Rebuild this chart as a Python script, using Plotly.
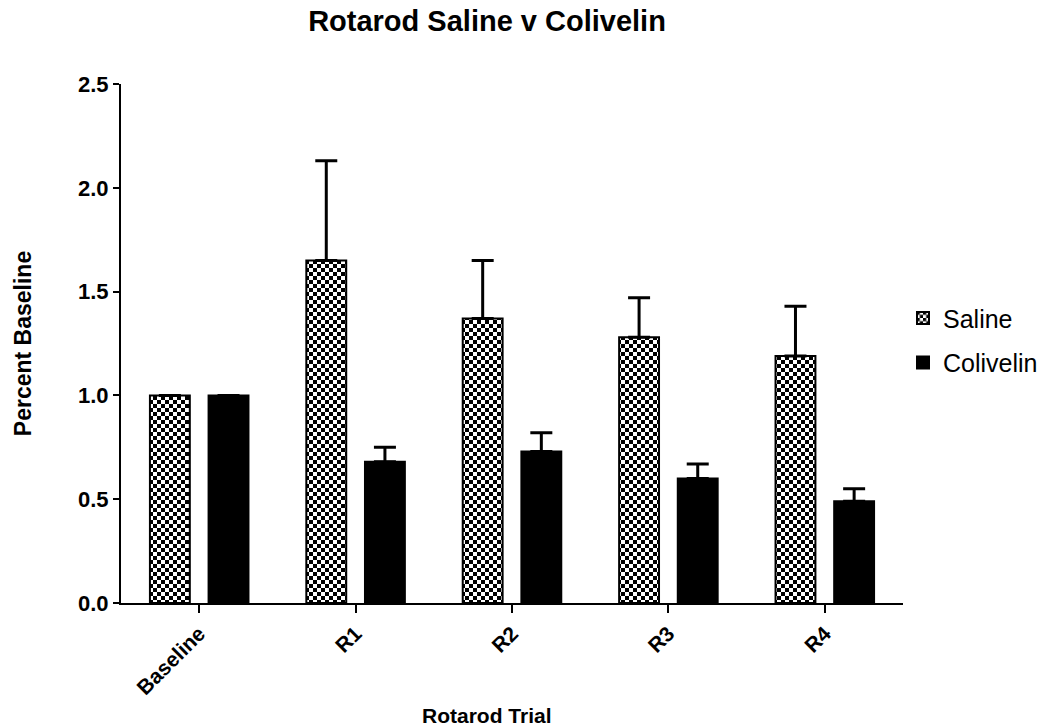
import plotly.graph_objects as go

categories = ["Baseline", "R1", "R2", "R3", "R4"]
saline_mean = [1.00, 1.65, 1.37, 1.28, 1.19]
saline_err = [None, 0.48, 0.28, 0.19, 0.24]
colivelin_mean = [1.00, 0.68, 0.73, 0.60, 0.49]
colivelin_err = [None, 0.07, 0.09, 0.07, 0.06]
y_ticks = [0.0, 0.5, 1.0, 1.5, 2.0, 2.5]

FONT = "Liberation Sans, Arial, sans-serif"

fig = go.Figure()
fig.add_trace(go.Bar(
    name="Saline", x=categories, y=saline_mean, legendgroup="s",
    marker=dict(color="white", line=dict(color="black", width=2),
                pattern=dict(shape="+", fgcolor="black", bgcolor="white", size=8, solidity=0.5)),
    error_y=dict(type="data", array=saline_err, arrayminus=[0] * 5, symmetric=False,
                 color="black", thickness=3, width=11),
))
fig.add_trace(go.Bar(
    name="Colivelin", x=categories, y=colivelin_mean, legendgroup="c",
    marker=dict(color="black", line=dict(color="black", width=2)),
    error_y=dict(type="data", array=colivelin_err, arrayminus=[0] * 5, symmetric=False,
                 color="black", thickness=3, width=11),
))

fig.update_layout(
    width=1046, height=727,
    margin=dict(l=121, r=143, t=84, b=124, autoexpand=False),
    paper_bgcolor="white", plot_bgcolor="white",
    font=dict(family=FONT, color="black"),
    barmode="group", bargap=0.25, bargroupgap=0.32,
    title=dict(text="Rotarod Saline v Colivelin", x=0.4656, xref="container", xanchor="center",
               y=0.972, yref="container", yanchor="middle",
               font=dict(size=29, weight="bold", family=FONT, color="black")),
    showlegend=True,
    legend=dict(x=1.0, xanchor="left", y=0.593, yanchor="top", traceorder="grouped",
                tracegroupgap=9, font=dict(size=25, family=FONT, color="black"),
                bgcolor="rgba(0,0,0,0)"),
    annotations=[dict(text="Rotarod Trial", xref="paper", yref="paper",
                      x=(487 - 121) / 782, y=-(715 - 603) / 519, xanchor="center", yanchor="middle",
                      showarrow=False,
                      font=dict(size=21, weight="bold", family=FONT, color="black"))],
)
fig.update_xaxes(
    range=[-0.5, 4.5], showline=True, linecolor="black", linewidth=2, automargin=False,
    ticks="outside", ticklen=8, tickwidth=2, tickcolor="black", tickangle=-45,
    tickfont=dict(size=21, weight="bold", family=FONT, color="black"),
    showgrid=False, zeroline=False,
)
fig.update_yaxes(
    range=[0, 2.5], tickvals=y_ticks, tickformat=".1f", showline=True, linecolor="black", linewidth=2,
    automargin=False,
    ticks="outside", ticklen=6, tickwidth=2, tickcolor="black",
    tickfont=dict(size=22, weight="bold", family=FONT, color="black"),
    showgrid=False, zeroline=False,
    title=dict(text="Percent Baseline", standoff=40,
               font=dict(size=23, weight="bold", family=FONT, color="black")),
)

post = """
(function(){
  document.body.style.margin = '0';
  document.body.style.padding = '0';
  function checker(){
    var pats = document.querySelectorAll('pattern');
    var ns = 'http://www.w3.org/2000/svg';
    pats.forEach(function(p){
      if (p.getAttribute('data-checker') === '1') return;
      while (p.firstChild) p.removeChild(p.firstChild);
      p.setAttribute('width', '8'); p.setAttribute('height', '8');
      p.setAttribute('patternUnits', 'userSpaceOnUse');
      var r0 = document.createElementNS(ns, 'rect');
      r0.setAttribute('x', '0'); r0.setAttribute('y', '0');
      r0.setAttribute('width', '8'); r0.setAttribute('height', '8'); r0.setAttribute('fill', 'white');
      p.appendChild(r0);
      [[0,0],[4,4]].forEach(function(c){
        var r = document.createElementNS(ns, 'rect');
        r.setAttribute('x', c[0]); r.setAttribute('y', c[1]);
        r.setAttribute('width', '4'); r.setAttribute('height', '4'); r.setAttribute('fill', 'black');
        p.appendChild(r);
      });
      p.setAttribute('data-checker', '1');
    });
  }
  checker();
  setTimeout(checker, 50);
  setTimeout(checker, 300);
  var gd = document.getElementById('{plot_id}');
  if (gd && gd.on) { gd.on('plotly_afterplot', function(){ setTimeout(checker, 0); }); }
})();
"""

fig.write_html("out.html", post_script=post, config={"displayModeBar": False})
